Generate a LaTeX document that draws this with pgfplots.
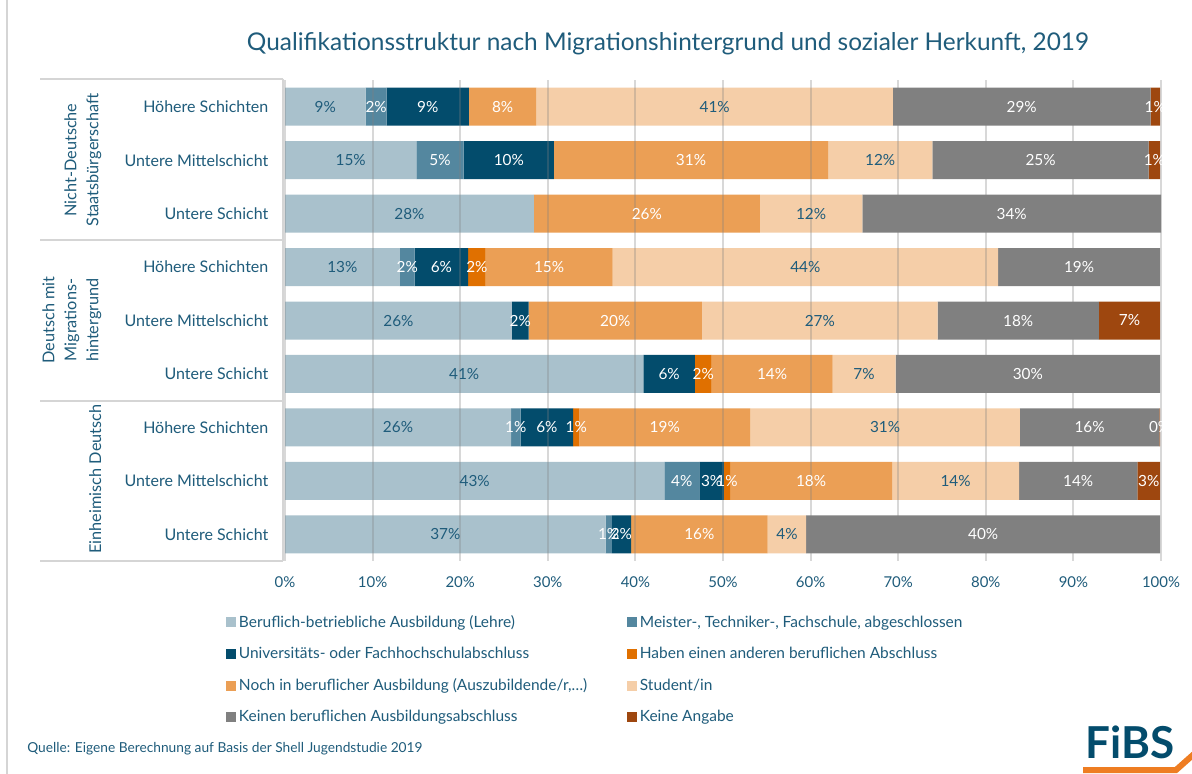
\documentclass[border=0pt]{standalone}
\usepackage{pgfplots}
\pgfplotsset{compat=1.18}
\usepackage{pgfplotstable}
\usepackage{fontspec}
\setmainfont{Lato}
\definecolor{txt}{HTML}{1F5C7B}
\definecolor{cA}{HTML}{A9C1CC}
\definecolor{cB}{HTML}{54879F}
\definecolor{cC}{HTML}{034C6C}
\definecolor{cD}{HTML}{E07000}
\definecolor{cE}{HTML}{EB9F55}
\definecolor{cF}{HTML}{F5CEA8}
\definecolor{cG}{HTML}{808080}
\definecolor{cH}{HTML}{9E470F}
\definecolor{framec}{HTML}{D5D5D5}
\definecolor{logoor}{HTML}{EE7D22}
\pgfplotstableread{
row A LA B LB C LC D LD E LE F LF G LG H LH
0 9.2 9 2.4 2 9.4 9 0 0 7.7 8 40.7 41 29.4 29 1.1 1
1 15.0 15 5.4 5 10.3 10 0 0 31.3 31 11.9 12 24.7 25 1.3 1
2 28.4 28 0 0 0 0 0 0 25.8 26 11.7 12 34.1 34 0 0
3 13.1 13 1.7 2 6.1 6 2.0 2 14.5 15 44.0 44 18.5 19 0 0
4 25.9 26 0 0 1.9 2 0 0 19.8 20 26.9 27 18.4 18 7.0 7
5 40.9 41 0 0 5.9 6 1.9 2 13.8 14 7.2 7 30.2 30 0 0
6 25.8 26 1.1 1 6.0 6 0.7 1 19.5 19 30.8 31 15.9 16 0.1 0
7 43.3 43 4.0 4 2.8 3 0.7 1 18.5 18 14.5 14 13.5 14 2.6 3
8 36.6 37 0.7 1 2.2 2 0 0 15.6 16 4.4 4 40.4 40 0 0
}\data
\begin{document}
\begin{tikzpicture}
\path[use as bounding box, fill=white] (0,0) rectangle (894pt,-580.5pt);
\begin{axis}[
  at={(213.75pt,-60pt)}, anchor=north west,
  scale only axis, width=657pt, height=360.75pt,
  xbar stacked, bar width=28.5pt,
  xmin=0, xmax=100, ymin=-0.5, ymax=8.5, y dir=reverse,
  xtick={0,10,...,100},
  xticklabel={\pgfmathprintnumber{\tick}\%},
  /pgf/number format/assume math mode=true,
  ytick={0,...,8},
  yticklabels={Höhere Schichten, Untere Mittelschicht, Untere Schicht, Höhere Schichten, Untere Mittelschicht, Untere Schicht, Höhere Schichten, Untere Mittelschicht, Untere Schicht},
  tick style={draw=none},
  axis line style={draw=none},
  xmajorgrids,
  grid style={draw=black!50, opacity=0.3, line width=1.4pt},
  axis on top,
  ticklabel style={font=\fontsize{11.2}{13}\selectfont, text=txt},
  yticklabel style={font=\fontsize{12}{14}\selectfont},
  xticklabel style={yshift=-8pt},
  yticklabel style={xshift=-9pt},
  point meta=explicit,
  nodes near coords={\pgfmathparse{\segval>0.05 ? 1 : 0}\ifnum\pgfmathresult=1 \pgfmathprintnumber{\pgfplotspointmeta}\%\fi},
  every node near coord/.style={anchor=center, inner sep=0pt, font=\fontsize{11.5}{13}\selectfont},
  legend columns=2,
  legend cell align=left,
  legend image code/.code={\fill[#1] (0pt,-3.75pt) rectangle (7.5pt,3.75pt);},
  legend style={at={(-0.0719,-0.1015)}, anchor=north west, draw=none, fill=none,
    font=\fontsize{11.6}{13}\selectfont, text=txt, row sep=9.4pt,
    /tikz/every even column/.append style={column sep=28pt}},
]
\addplot[fill=cA, draw=none, visualization depends on={\thisrow{A} \as \segval}, every node near coord/.append style={text=txt}] table[x=A, y=row, meta=LA]{\data};
\addlegendentry{Beruflich-betriebliche Ausbildung (Lehre)}
\addplot[fill=cB, draw=none, visualization depends on={\thisrow{B} \as \segval}, every node near coord/.append style={text=white}] table[x=B, y=row, meta=LB]{\data};
\addlegendentry{Meister-, Techniker-, Fachschule, abgeschlossen}
\addplot[fill=cC, draw=none, visualization depends on={\thisrow{C} \as \segval}, every node near coord/.append style={text=white}] table[x=C, y=row, meta=LC]{\data};
\addlegendentry{Universitäts- oder Fachhochschulabschluss}
\addplot[fill=cD, draw=none, visualization depends on={\thisrow{D} \as \segval}, every node near coord/.append style={text=white}] table[x=D, y=row, meta=LD]{\data};
\addlegendentry{Haben einen anderen beruflichen Abschluss}
\addplot[fill=cE, draw=none, visualization depends on={\thisrow{E} \as \segval}, every node near coord/.append style={text=white}] table[x=E, y=row, meta=LE]{\data};
\addlegendentry{Noch in beruflicher Ausbildung (Auszubildende/r,…)}
\addplot[fill=cF, draw=none, visualization depends on={\thisrow{F} \as \segval}, every node near coord/.append style={text=txt}] table[x=F, y=row, meta=LF]{\data};
\addlegendentry{Student/in}
\addplot[fill=cG, draw=none, visualization depends on={\thisrow{G} \as \segval}, every node near coord/.append style={text=white}] table[x=G, y=row, meta=LG]{\data};
\addlegendentry{Keinen beruflichen Ausbildungsabschluss}
\addplot[fill=cH, draw=none, visualization depends on={\thisrow{H} \as \segval}, every node near coord/.append style={text=white}] table[x=H, y=row, meta=LH]{\data};
\addlegendentry{Keine Angabe}
\end{axis}
\begin{scope}[x=0.75pt, y=-0.75pt]
  \draw[framec, line width=1.2pt] (7,0) -- (7,774);
  \draw[framec, line width=1.2pt] (283,79) -- (283,561);
  \foreach \yy in {79,240,401,561} \draw[framec, line width=1.2pt] (40,\yy) -- (283,\yy);
  \node[rotate=90, anchor=south, align=center, text=txt, font=\fontsize{12.2}{16.5}\selectfont] at (106,160) {Nicht-Deutsche\\Staatsbürgerschaft};
  \node[rotate=90, anchor=south, align=center, text=txt, font=\fontsize{12.2}{16.5}\selectfont] at (106,320) {Deutsch mit\\Migrations-\\hintergrund};
  \node[rotate=90, anchor=south, align=center, text=txt, font=\fontsize{12.2}{16.5}\selectfont] at (106,479) {Einheimisch Deutsch};
  \node[text=txt, font=\fontsize{18.3}{21}\selectfont] at (668,44) {Qualifikationsstruktur nach Migrationshintergrund und sozialer Herkunft, 2019};
  \node[anchor=west, text=txt, font=\fontsize{10.3}{12}\selectfont, inner sep=0pt] at (27,749) {Quelle: Eigene Berechnung auf Basis der Shell Jugendstudie 2019};
  \node[anchor=base, text=cC, font=\fontsize{33}{35}\bfseries\selectfont, inner sep=0pt] at (1130,758) {FiBS};
  \draw[logoor, line width=4.5pt] (1083,770) -- (1176,770) -- (1194,754);
\end{scope}
\end{tikzpicture}
\end{document}
